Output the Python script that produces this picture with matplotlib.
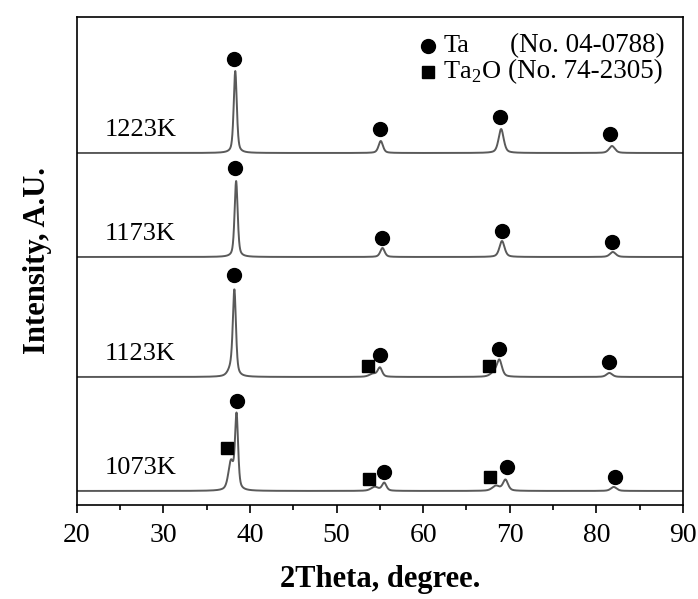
import numpy as np
import matplotlib
matplotlib.use("Agg")
import matplotlib.pyplot as plt

plt.rcParams['mathtext.fontset'] = 'custom'
plt.rcParams['mathtext.rm'] = 'Liberation Serif'

# sample temperatures, bottom to top
samples = ["1073K", "1123K", "1173K", "1223K"]
baselines = [14, 128, 248, 352]

# peaks per sample: position (deg), height (a.u.), fwhm (deg)
peak_pos = [
    [37.8, 38.45, 54.4, 55.5, 68.4, 69.5, 82.0],
    [37.9, 38.2, 54.2, 55.0, 68.2, 68.8, 81.5],
    [38.4, 55.3, 69.1, 81.9],
    [38.3, 55.1, 69.0, 81.8],
]
peak_h = [
    [28, 74, 4, 8, 5, 11, 4],
    [8, 82, 3, 9, 4, 16, 4],
    [76, 9, 16, 5],
    [82, 12, 24, 7],
]
peak_w = [
    [0.7, 0.42, 1.0, 0.6, 1.0, 0.7, 0.8],
    [0.9, 0.42, 1.0, 0.6, 1.0, 0.7, 0.8],
    [0.42, 0.6, 0.7, 0.8],
    [0.42, 0.6, 0.7, 0.8],
]

# phase markers (x in deg, y in a.u.)
ta_x = [[38.5, 55.5, 69.7, 82.2], [38.1, 55.0, 68.8, 81.5],
        [38.3, 55.3, 69.1, 81.8], [38.1, 55.0, 68.9, 81.6]]
ta_y = [[104, 33, 38, 28], [230, 150, 156, 143], [337, 267, 274, 263], [446, 376, 388, 371]]
ta2o_x = [[37.3, 53.7, 67.7], [53.6, 67.6]]
ta2o_y = [[57, 26, 28], [139, 139]]

x = np.linspace(20, 90, 3500)

fig = plt.figure(figsize=(6.98, 5.99), dpi=100)
ax = fig.add_axes([0.110, 0.157, 0.8685, 0.8146])

serif = "Liberation Serif"
for i in range(len(samples)):
    y = np.full_like(x, baselines[i], dtype=float)
    for p, h, w in zip(peak_pos[i], peak_h[i], peak_w[i]):
        g = (w / 2) ** 2
        lor = g / ((x - p) ** 2 + g)
        gau = np.exp(-4 * np.log(2) * (x - p) ** 2 / w ** 2)
        y += h * (0.5 * lor + 0.5 * gau)
    ax.plot(x, y, color="#5a5a5a", lw=1.4)
    ax.text(23.2, baselines[i] + 23, samples[i], fontsize=19,
            family=serif, va="center")

for xs, ys in zip(ta_x, ta_y):
    ax.plot(xs, ys, "o", color="black", ms=10, ls="none")
for xs, ys in zip(ta2o_x, ta2o_y):
    ax.plot(xs, ys, "s", color="black", ms=8.5, ls="none")

# legend drawn by hand
ax.plot([60.5], [459], "o", color="black", ms=10)
ax.plot([60.5], [433], "s", color="black", ms=8.5)
ax.text(62.3, 459, "Ta", fontsize=19, family=serif, va="center")
ax.text(62.3, 433, r"Ta$_2$O", fontsize=19, family=serif, va="center")
ax.text(70.0, 459, "(No. 04-0788)", fontsize=19.5, family=serif, va="center")
ax.text(69.8, 433, "(No. 74-2305)", fontsize=19.5, family=serif, va="center")

ax.set_xlim(20, 90)
ax.set_ylim(0, 488)
ax.set_xticks(np.arange(20, 91, 10))
ax.set_xticks(np.arange(25, 90, 10), minor=True)
ax.set_yticks([])
ax.tick_params(axis="x", which="major", direction="out", length=6, width=1.2, top=False, pad=7)
ax.tick_params(axis="x", which="minor", direction="out", length=3.5, width=1.2, top=False)
for lab in ax.get_xticklabels():
    lab.set_family(serif)
    lab.set_fontsize(20)
for s in ax.spines.values():
    s.set_linewidth(1.2)

ax.set_xlabel("2Theta, degree.", fontsize=22, family=serif,
              fontweight="bold", labelpad=12)
ax.set_ylabel("Intensity, A.U.", fontsize=22, family=serif,
              fontweight="bold", labelpad=18)

fig.savefig("out.png", dpi=100)
